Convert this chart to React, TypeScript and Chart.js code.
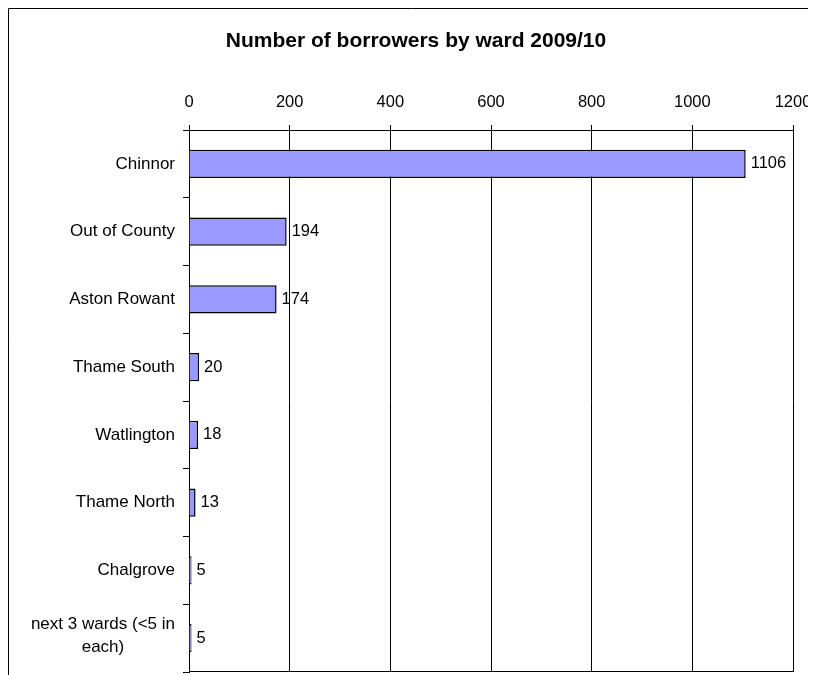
import React, { useEffect, useRef } from "react";
import { Chart, registerables } from "chart.js";

Chart.register(...registerables);

const chartTitle = "Number of borrowers by ward 2009/10";
const categories: (string | string[])[] = [
  "Chinnor",
  "Out of County",
  "Aston Rowant",
  "Thame South",
  "Watlington",
  "Thame North",
  "Chalgrove",
  ["next 3 wards (<5 in", "each)"],
];
const borrowers: number[] = [1106, 194, 174, 20, 18, 13, 5, 5];
const axisMin = 0;
const axisMax = 1200;
const axisStep = 200;

const FONT = "'Liberation Sans', Arial, Helvetica, sans-serif";

const decorPlugin = {
  id: "decor",
  afterDraw(chart: any) {
    const ctx = chart.ctx as CanvasRenderingContext2D;
    const area = chart.chartArea;
    const yScale = chart.scales.y;
    ctx.save();
    ctx.strokeStyle = "#000";
    ctx.lineWidth = 1;
    // outer frame (left and top edges visible)
    ctx.beginPath();
    ctx.moveTo(0.5, chart.height);
    ctx.lineTo(0.5, 1.5);
    ctx.lineTo(chart.width, 1.5);
    ctx.stroke();
    // bottom frame line of plot area
    const by = Math.round(area.bottom) - 0.5;
    ctx.beginPath();
    ctx.moveTo(Math.round(area.left), by);
    ctx.lineTo(Math.round(area.right) + 1, by);
    ctx.stroke();

    // title
    ctx.fillStyle = "#000";
    ctx.font = `bold 21px ${FONT}`;
    ctx.textAlign = "center";
    ctx.textBaseline = "middle";
    ctx.fillText(chartTitle, chart.width / 2 + 4, 34);

    // category labels
    ctx.font = `17px ${FONT}`;
    const right = yScale.right - 14;
    categories.forEach((lab, i) => {
      const lines = Array.isArray(lab) ? lab : [lab];
      const widest = Math.max(...lines.map((l) => ctx.measureText(l).width));
      const cx = right - widest / 2;
      let cy = yScale.getPixelForValue(i);
      const lh = 23;
      if (lines.length > 1) cy -= 2;
      lines.forEach((l, k) => {
        ctx.fillText(l, cx, cy + (k - (lines.length - 1) / 2) * lh);
      });
    });

    // value labels
    ctx.font = `16.5px ${FONT}`;
    ctx.textAlign = "left";
    const meta = chart.getDatasetMeta(0);
    meta.data.forEach((bar: any, i: number) => {
      ctx.fillText(String(borrowers[i]), bar.x + 5, bar.y);
    });
    ctx.restore();
  },
};

export default function App() {
  const ref = useRef<HTMLCanvasElement | null>(null);

  useEffect(() => {
    document.documentElement.style.overflow = "hidden";
    const canvas = ref.current;
    if (!canvas) return;
    const chart = new Chart(canvas, {
      type: "bar",
      data: {
        labels: categories as any,
        datasets: [
          {
            data: borrowers,
            backgroundColor: "#9999FF",
            borderColor: "#000",
            borderWidth: 1.5,
            barPercentage: 0.42,
            categoryPercentage: 1,
          },
        ],
      },
      options: {
        indexAxis: "y",
        animation: false,
        responsive: false,
        devicePixelRatio: 1,
        layout: { padding: { top: 83, left: 0, right: 23, bottom: 3 } },
        plugins: {
          legend: { display: false },
          tooltip: { enabled: false },
          title: { display: false },
        },
        scales: {
          x: {
            position: "top",
            min: axisMin,
            max: axisMax,
            ticks: {
              stepSize: axisStep,
              color: "#000",
              padding: 13,
              font: { family: FONT, size: 16.5 },
              callback: (v: any) => String(v),
            },
            grid: {
              color: "#000",
              lineWidth: 1,
              drawTicks: true,
              tickLength: 5,
            },
            border: { display: true, color: "#000", width: 1 },
            afterFit(scale: any) {
              scale.height = 40;
              scale.paddingLeft = 0;
              scale.paddingRight = 0;
            },
          },
          y: {
            ticks: { display: false },
            grid: {
              offset: true,
              drawOnChartArea: false,
              drawTicks: true,
              tickLength: 6,
              color: "#000",
            },
            border: { display: true, color: "#000", width: 1 },
            afterFit(scale: any) {
              scale.width = 181;
              scale.paddingTop = 0;
              scale.paddingBottom = 0;
            },
          },
        },
      },
      plugins: [decorPlugin],
    });
    return () => chart.destroy();
  }, []);

  return (
    <div style={{ position: "relative", top: -1, width: 808, height: 668 }}>
      <canvas ref={ref} width={808} height={668} style={{ display: "block" }} />
    </div>
  );
}
